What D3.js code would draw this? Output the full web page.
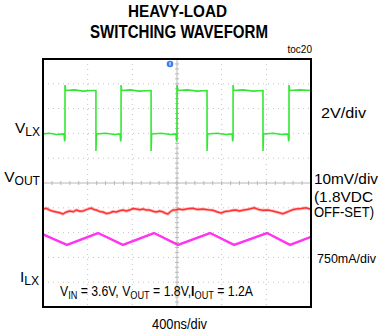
<!DOCTYPE html>
<html><head><meta charset="utf-8">
<script src="https://cdn.jsdelivr.net/npm/d3@7"></script>
<style>
html,body{margin:0;padding:0;background:#fff;}
svg{display:block;font-family:"Liberation Sans",Arial,Helvetica,sans-serif;}
</style></head>
<body><div id="chart"></div>
<script>
// ---- data ----
const titleLines = ["HEAVY-LOAD", "SWITCHING WAVEFORM"];
const timeDomainNs = [0, 2400];          // 400ns/div x 6 div
const xDivs = 6, yDivs = 10;
// V_LX (V) vs time (ns)
const vlxT = [0,60,120,189,194,197,197,203,280,360,440,474,474,479,560,640,690,696,699,699,705,780,860,968,968,973,1060,1140,1192,1197,1200,1200,1206,1290,1380,1469,1469,1474,1560,1640,1694,1699,1702,1702,1708,1790,1880,1970,1970,1975,2060,2140,2195,2200,2203,2203,2209,2300,2400];
const vlxV = [0,0.05,-0.05,0,-0.6,-0.3,3.94,3.5,3.55,3.45,3.5,3.5,-1.38,0,0.05,-0.05,0,-0.6,-0.3,3.94,3.5,3.55,3.45,3.5,-1.38,0,0.05,-0.05,0,-0.6,-0.3,3.94,3.5,3.55,3.45,3.5,-1.38,0,0.05,-0.05,0,-0.6,-0.3,3.94,3.5,3.55,3.45,3.5,-1.38,0,0.05,-0.05,0,-0.6,-0.3,3.94,3.5,3.55,3.5];
// V_OUT AC ripple (mV, relative to 1.8V offset)
const voutT = [0,30,60,90,119,150,179,205,239,270,299,330,358,395,433,455,478,508,537,567,597,627,657,686,716,746,776,806,836,866,896,925,955,985,1015,1045,1075,1097,1119,1140,1164,1191,1220,1251,1296,1341,1385,1430,1475,1520,1557,1594,1630,1669,1700,1729,1758,1788,1840,1893,1930,1967,2012,2057,2100,2147,2176,2206,2236,2266,2311,2356,2380,2400];
const voutMv = [-10.5,-10.2,-10.9,-11.4,-11.7,-12.0,-12.5,-11.8,-11.3,-11.6,-10.9,-11.4,-11.3,-10.6,-10.1,-10.7,-10.9,-11.5,-11.7,-12.3,-12.1,-11.5,-11.7,-11.2,-10.9,-11.3,-10.9,-10.3,-10.5,-10.8,-10.5,-10.9,-10.9,-11.4,-11.7,-11.3,-11.7,-12.2,-12.5,-11.6,-10.9,-10.9,-10.5,-10.8,-10.4,-10.2,-10.7,-10.5,-10.8,-11.0,-11.6,-12.1,-11.5,-11.3,-11.0,-10.9,-11.3,-11.0,-10.6,-10.0,-10.7,-11.0,-10.9,-11.3,-11.8,-12.4,-11.9,-11.3,-10.8,-10.5,-10.3,-10.0,-10.4,-10.5];
// I_LX (A)
const ilxT = [0,215,493,716,994,1209,1496,1711,2006,2212,2400];
const ilxA = [1.29,0.97,1.33,0.97,1.33,0.97,1.33,0.97,1.33,0.97,1.21];
// channel settings: units per division and reference position (divisions from center)
const chVlx = {perDiv: 2, ref: 1.98};
const chVout = {perDiv: 10, ref: 0};
const chIlx = {perDiv: 0.75, ref: -3.79};
const rightLabels = ["2V/div", "10mV/div", "(1.8VDC", "OFF-SET)", "750mA/div"];
const xLabel = "400ns/div";
const tocLabel = "toc20";

// ---- layout ----
const W = 380, H = 334;
const plot = {l: 43, r: 311, t: 59, b: 307};
const svg = d3.select("#chart").append("svg").attr("width", W).attr("height", H);
svg.append("rect").attr("width", W).attr("height", H).attr("fill", "#fff");

const x = d3.scaleLinear().domain(timeDomainNs).range([plot.l, plot.r]);
const y = d3.scaleLinear().domain([-yDivs/2, yDivs/2]).range([plot.b, plot.t]);
const xDiv = d3.scaleLinear().domain([0, xDivs]).range([plot.l, plot.r]);

// grid
const g = svg.append("g");
const xg = d3.range(1, xDivs).filter(i => i !== xDivs/2);
const yg = d3.range(-yDivs/2 + 1, yDivs/2).filter(i => i !== 0);
g.selectAll(".vg").data(xg).join("line")
  .attr("x1", d => xDiv(d)).attr("x2", d => xDiv(d))
  .attr("y1", plot.t).attr("y2", plot.b)
  .attr("stroke", "#c4c4c4").attr("stroke-width", 1).attr("stroke-dasharray", "1,4");
g.selectAll(".hg").data(yg).join("line")
  .attr("y1", d => y(d)).attr("y2", d => y(d))
  .attr("x1", plot.l).attr("x2", plot.r)
  .attr("stroke", "#c4c4c4").attr("stroke-width", 1).attr("stroke-dasharray", "1,4");
// center axes with minor ticks
const cx = xDiv(xDivs/2), cy = y(0);
g.append("line").attr("x1", cx).attr("x2", cx).attr("y1", plot.t).attr("y2", plot.b)
  .attr("stroke", "#b8b8b8").attr("stroke-width", 1);
g.append("line").attr("y1", cy).attr("y2", cy).attr("x1", plot.l).attr("x2", plot.r)
  .attr("stroke", "#b8b8b8").attr("stroke-width", 1);
const yMinor = d3.range(-yDivs/2, yDivs/2 + 0.001, 0.2);
g.selectAll(".ym").data(yMinor).join("line")
  .attr("x1", cx - 2).attr("x2", cx + 2).attr("y1", d => y(d)).attr("y2", d => y(d))
  .attr("stroke", "#b8b8b8");
const xMinor = d3.range(0, xDivs + 0.001, 0.2);
g.selectAll(".xm").data(xMinor).join("line")
  .attr("y1", cy - 2).attr("y2", cy + 2).attr("x1", d => xDiv(d)).attr("x2", d => xDiv(d))
  .attr("stroke", "#b8b8b8");

// traces
const line = d3.line().x(d => x(d[0])).y(d => y(d[1]));
const vlxData = vlxT.map((t, i) => [t, vlxV[i] / chVlx.perDiv + chVlx.ref]);
const voutData = voutT.map((t, i) => [t, voutMv[i] / chVout.perDiv + chVout.ref]);
const ilxData = ilxT.map((t, i) => [t, ilxA[i] / chIlx.perDiv + chIlx.ref]);

const tr = svg.append("g");
tr.append("path").datum(voutData).attr("d", line).attr("fill", "none")
  .attr("stroke", "#ff6a6a").attr("stroke-opacity", 0.45).attr("stroke-width", 3.2);
tr.append("path").datum(voutData).attr("d", line).attr("fill", "none")
  .attr("stroke", "#ff3030").attr("stroke-width", 1.4);
tr.append("path").datum(ilxData).attr("d", line).attr("fill", "none")
  .attr("stroke", "#ff33f0").attr("stroke-width", 2.4);
tr.append("path").datum(vlxData).attr("d", line).attr("fill", "none")
  .attr("stroke", "#33e833").attr("stroke-width", 1.6);

// frame
svg.append("rect").attr("x", plot.l).attr("y", plot.t)
  .attr("width", plot.r - plot.l).attr("height", plot.b - plot.t)
  .attr("fill", "none").attr("stroke", "#000").attr("stroke-width", 2);

// trigger marker
svg.append("circle").attr("cx", 170).attr("cy", 64).attr("r", 3.3).attr("fill", "#3d7df0");
svg.append("rect").attr("x", 169.3).attr("y", 62).attr("width", 1.4).attr("height", 3.5).attr("fill", "#cfe0ff");

// title
svg.append("text").attr("x", 177.5).attr("y", 17).attr("text-anchor", "middle")
  .attr("font-size", 17).attr("font-weight", "bold")
  .attr("textLength", 99).attr("lengthAdjust", "spacingAndGlyphs").text(titleLines[0]);
svg.append("text").attr("x", 179).attr("y", 38).attr("text-anchor", "middle")
  .attr("font-size", 17.5).attr("font-weight", "bold")
  .attr("textLength", 178).attr("lengthAdjust", "spacingAndGlyphs").text(titleLines[1]);
svg.append("text").attr("x", 312).attr("y", 53).attr("text-anchor", "end")
  .attr("font-size", 10).text(tocLabel);

// left channel labels
function subLabel(xEnd, yb, main, sub, mainSize) {
  const t = svg.append("text").attr("x", xEnd).attr("y", yb).attr("text-anchor", "end")
    .attr("font-size", mainSize);
  t.append("tspan").text(main);
  t.append("tspan").attr("font-size", mainSize * 0.78).attr("dy", 3).text(sub);
}
subLabel(40, 133, "V", "LX", 15.5);
subLabel(40, 182, "V", "OUT", 15.5);
subLabel(39, 282, "I", "LX", 15.5);

// right labels
const rl = [
  {t: rightLabels[0], x: 321, y: 118, fs: 14, w: 45},
  {t: rightLabels[1], x: 314, y: 184, fs: 14, w: 64},
  {t: rightLabels[2], x: 314, y: 202, fs: 14, w: 59},
  {t: rightLabels[3], x: 314, y: 217, fs: 14, w: 60},
  {t: rightLabels[4], x: 317, y: 263, fs: 12.6, w: 59}
];
svg.selectAll(".rl").data(rl).join("text")
  .attr("x", d => d.x).attr("y", d => d.y).attr("font-size", d => d.fs)
  .attr("textLength", d => d.w).attr("lengthAdjust", "spacingAndGlyphs")
  .text(d => d.t);

// conditions (horizontally condensed like the reference)
const cond = svg.append("text").attr("transform", "translate(60,296) scale(0.875,1)")
  .attr("font-size", 14);
cond.append("tspan").text("V");
cond.append("tspan").attr("font-size", 10.5).attr("dy", 3).text("IN");
cond.append("tspan").attr("dy", -3).text(" = 3.6V, V");
cond.append("tspan").attr("font-size", 10.5).attr("dy", 3).text("OUT");
cond.append("tspan").attr("dy", -3).text(" = 1.8V,");
cond.append("tspan").attr("font-weight", "bold").text("I");
cond.append("tspan").attr("font-size", 10.5).attr("dy", 3).text("OUT");
cond.append("tspan").attr("dy", -3).text(" = 1.2A");

svg.append("text").attr("x", 179.5).attr("y", 329).attr("text-anchor", "middle")
  .attr("font-size", 15).attr("textLength", 55).attr("lengthAdjust", "spacingAndGlyphs")
  .text(xLabel);
</script>
</body></html>
